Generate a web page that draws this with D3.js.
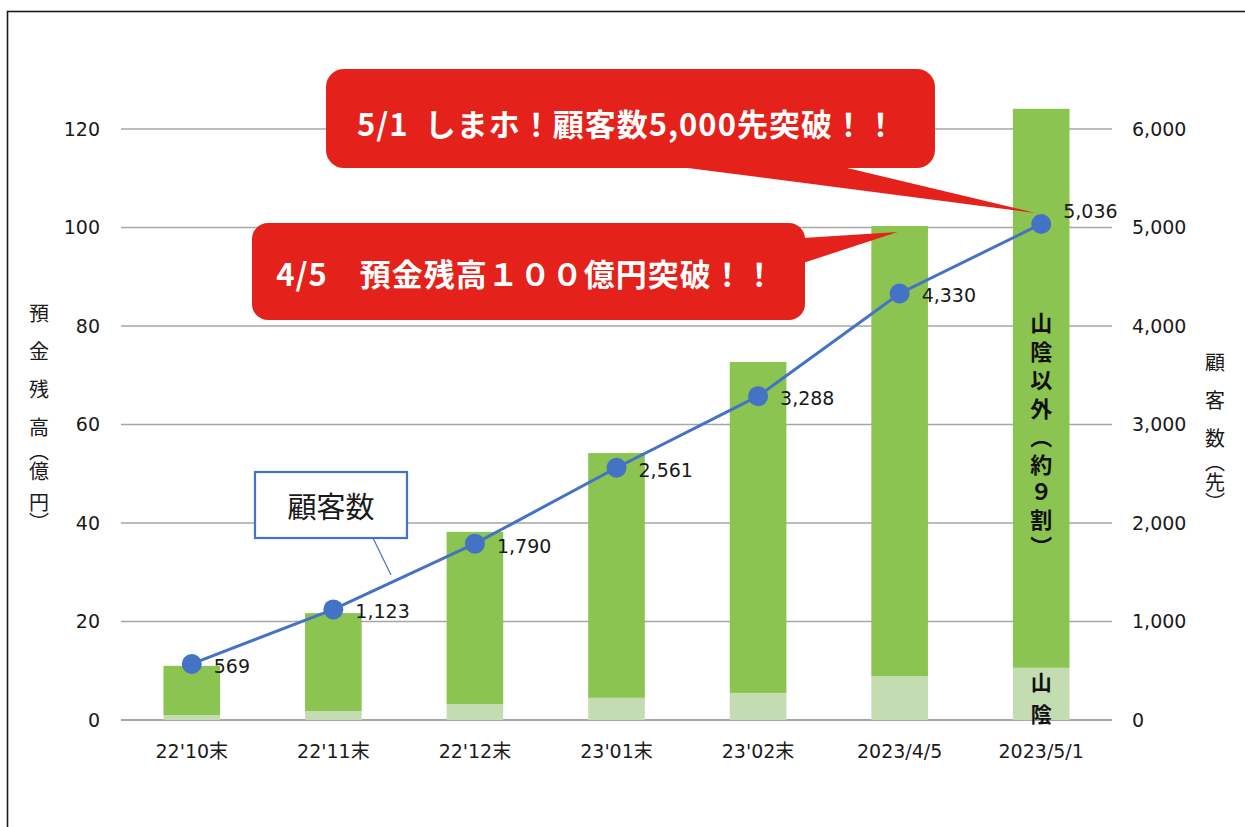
<!DOCTYPE html>
<html>
<head>
<meta charset="utf-8">
<script src="https://cdn.jsdelivr.net/npm/d3@7/dist/d3.min.js"></script>
<style>
  html, body { margin: 0; padding: 0; background: #ffffff; }
  svg { display: block; }
  .vert { writing-mode: vertical-rl; text-orientation: mixed; }
</style>
</head>
<body>
<div id="chart"></div>
<script>
// categories / values
var categories = ["22'10末", "22'11末", "22'12末", "23'01末", "23'02末", "2023/4/5", "2023/5/1"];
var sanin      = [1.0, 1.8, 3.2, 4.5, 5.5, 8.9, 10.6];      // 山陰 (億円)
var other      = [10.0, 19.9, 35.0, 49.7, 67.2, 91.4, 113.5]; // 山陰以外 (億円)
var customers  = [569, 1123, 1790, 2561, 3288, 4330, 5036];  // 顧客数 (先)
var leftTicks  = [0, 20, 40, 60, 80, 100, 120];
var rightTicks = [0, 1000, 2000, 3000, 4000, 5000, 6000];

var W = 1245, H = 827;
var GREEN = "#8bc451", LIGHT = "#c4dcb2", BLUE = "#4472c4", RED = "#e5211b", GRID = "#a6a6a6";
var NUM_FONT = "'DejaVu Sans', 'Noto Sans CJK JP', sans-serif";
var JP_FONT = "'Noto Sans CJK JP', 'Noto Sans', sans-serif";

var svg = d3.select("#chart").append("svg")
    .attr("width", W)
    .attr("height", H);

// outer frame (runs off the right / bottom edge)
svg.append("rect")
    .attr("x", 7.5).attr("y", 11.5)
    .attr("width", 1400).attr("height", 1000)
    .attr("fill", "none")
    .attr("stroke", "#1a1a1a")
    .attr("stroke-width", 1.6);

var x = d3.scaleBand().domain(categories).range([121, 1112]).paddingInner(0.6).paddingOuter(0.3);
var y = d3.scaleLinear().domain([0, 120]).range([720, 129]);
var yR = d3.scaleLinear().domain([0, 6000]).range([720, 129]);

// grid
svg.append("g").selectAll("line")
    .data(leftTicks)
    .enter().append("line")
    .attr("x1", 121).attr("x2", 1112)
    .attr("y1", function (d) { return y(d); })
    .attr("y2", function (d) { return y(d); })
    .attr("stroke", GRID)
    .attr("stroke-width", function (d) { return d === 0 ? 2 : 1.5; });

// left axis labels
svg.append("g").selectAll("text")
    .data(leftTicks)
    .enter().append("text")
    .attr("x", 100)
    .attr("y", function (d) { return y(d); })
    .attr("dy", "0.36em")
    .attr("text-anchor", "end")
    .attr("font-family", NUM_FONT)
    .attr("font-size", 19)
    .attr("fill", "#1a1a1a")
    .text(function (d) { return d; });

// right axis labels
var fmt = d3.format(",");
svg.append("g").selectAll("text")
    .data(rightTicks)
    .enter().append("text")
    .attr("x", 1132)
    .attr("y", function (d) { return yR(d); })
    .attr("dy", "0.36em")
    .attr("text-anchor", "start")
    .attr("font-family", NUM_FONT)
    .attr("font-size", 19)
    .attr("fill", "#1a1a1a")
    .text(function (d) { return fmt(d); });

// category labels
svg.append("g").selectAll("text")
    .data(categories)
    .enter().append("text")
    .attr("x", function (d) { return x(d) + x.bandwidth() / 2; })
    .attr("y", 758)
    .attr("text-anchor", "middle")
    .attr("font-family", NUM_FONT)
    .attr("font-size", 19)
    .attr("fill", "#1a1a1a")
    .text(function (d) { return d; });

// stacked bars
var stackData = categories.map(function (c, i) {
    return {cat: c, sanin: sanin[i], other: other[i]};
});
var series = d3.stack().keys(["sanin", "other"])(stackData);
var colors = {sanin: LIGHT, other: GREEN};

svg.append("g").selectAll("g")
    .data(series)
    .enter().append("g")
    .attr("fill", function (s) { return colors[s.key]; })
    .selectAll("rect")
    .data(function (s) { return s; })
    .enter().append("rect")
    .attr("x", function (d) { return x(d.data.cat); })
    .attr("width", x.bandwidth())
    .attr("y", function (d) { return y(d[1]); })
    .attr("height", function (d) { return y(d[0]) - y(d[1]); });

// vertical text: one <text>, pieces as tspans with their own letter-spacing
function vtext(parts, cx, top, opts) {
    var t = svg.append("text")
        .attr("class", "vert")
        .attr("x", cx).attr("y", top)
        .attr("font-family", JP_FONT)
        .attr("font-size", opts.size)
        .attr("font-weight", opts.weight || "normal")
        .attr("fill", opts.fill || "#1a1a1a");
    parts.forEach(function (p) {
        t.append("tspan").attr("letter-spacing", p[1]).text(p[0]);
    });
}

// labels inside the last bar
var lastCx = x(categories[6]) + x.bandwidth() / 2;
vtext([["山陰以外", 6.5], ["（約９割）", 5.5]], lastCx, 312, {size: 22, weight: "bold", fill: "#111"});
vtext([["山陰", 11]], lastCx, 672, {size: 21, weight: "bold", fill: "#111"});

// axis titles
vtext([["預金残", 18], ["高", 4], ["（", 0], ["億", 11], ["円）", 0]], 39, 303, {size: 20});
vtext([["顧客", 18], ["数", 4], ["（先）", 0]], 1215, 352, {size: 20});

// customers line
var pts = categories.map(function (c, i) {
    return {cx: x(c) + x.bandwidth() / 2, cy: yR(customers[i]), v: customers[i]};
});
svg.append("path")
    .datum(pts)
    .attr("fill", "none")
    .attr("stroke", BLUE)
    .attr("stroke-width", 3)
    .attr("d", d3.line().x(function (d) { return d.cx; }).y(function (d) { return d.cy; }));

svg.append("g").selectAll("circle")
    .data(pts)
    .enter().append("circle")
    .attr("cx", function (d) { return d.cx; })
    .attr("cy", function (d) { return d.cy; })
    .attr("r", 10)
    .attr("fill", BLUE);

svg.append("g").selectAll("text")
    .data(pts)
    .enter().append("text")
    .attr("x", function (d) { return d.cx + 22; })
    .attr("y", function (d, i) { return d.cy + (i === pts.length - 1 ? -13 : 2); })
    .attr("dy", "0.36em")
    .attr("font-family", NUM_FONT)
    .attr("font-size", 19)
    .attr("fill", "#1a1a1a")
    .text(function (d) { return fmt(d.v); });

// callouts
function callout(bx, by, bw, bh, r, wedge, label, cx, cy) {
    var g = svg.append("g");
    g.append("polygon")
        .attr("points", wedge.map(function (p) { return p.join(","); }).join(" "))
        .attr("fill", RED);
    g.append("rect")
        .attr("x", bx).attr("y", by)
        .attr("width", bw).attr("height", bh)
        .attr("rx", r).attr("ry", r)
        .attr("fill", RED);
    g.append("text")
        .attr("x", cx).attr("y", cy)
        .attr("text-anchor", "middle")
        .attr("dominant-baseline", "central")
        .attr("font-family", JP_FONT)
        .attr("font-size", 31)
        .attr("font-weight", "bold")
        .attr("letter-spacing", 1)
        .attr("fill", "#ffffff")
        .text(label);
}

var p5036 = pts[6];
callout(326, 69, 609, 99, 18,
    [[680, 167], [843, 167], [p5036.cx - 6, p5036.cy - 11]],
    "5/1\u00a0\u00a0しまホ！顧客数5,000先突破！！", 627, 122);

var bar6Top = y(sanin[5] + other[5]);
callout(252, 223, 553, 97, 16,
    [[803, 238], [803, 263], [x(categories[5]) + x.bandwidth() / 2 - 2, bar6Top + 6]],
    "4/5\u3000預金残高１００億円突破！！", 526, 272);

// 顧客数 legend box with leader line
svg.append("line")
    .attr("x1", 373).attr("y1", 538)
    .attr("x2", 391).attr("y2", 575)
    .attr("stroke", BLUE)
    .attr("stroke-width", 1.2);
svg.append("rect")
    .attr("x", 255).attr("y", 472)
    .attr("width", 152).attr("height", 66)
    .attr("fill", "#ffffff")
    .attr("stroke", BLUE)
    .attr("stroke-width", 2.2);
svg.append("text")
    .attr("x", 331).attr("y", 505)
    .attr("text-anchor", "middle")
    .attr("dominant-baseline", "central")
    .attr("font-family", JP_FONT)
    .attr("font-size", 29)
    .attr("fill", "#1a1a1a")
    .text("顧客数");
</script>
</body>
</html>
